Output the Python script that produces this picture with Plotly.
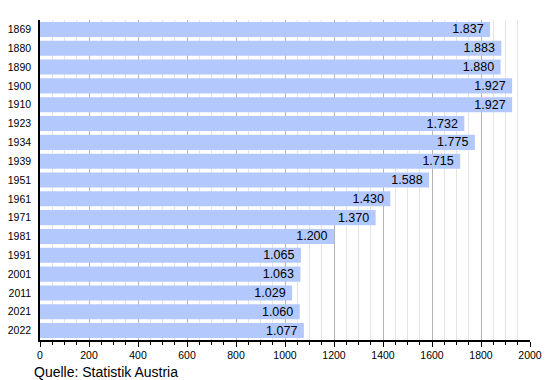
import plotly.graph_objects as go

years = ["1869", "1880", "1890", "1900", "1910", "1923", "1934", "1939", "1951",
         "1961", "1971", "1981", "1991", "2001", "2011", "2021", "2022"]
population = [1837, 1883, 1880, 1927, 1927, 1732, 1775, 1715, 1588,
              1430, 1370, 1200, 1065, 1063, 1029, 1060, 1077]
x_ticks = list(range(0, 2001, 200))

fig = go.Figure(go.Bar(
    x=population, y=years, orientation="h",
    marker=dict(color="#b3c9fd", line=dict(width=0)),
    texttemplate="%{x:,}\u00a0", textposition="inside", insidetextanchor="end",
    textfont=dict(size=12.5, color="black", family="Liberation Sans, Arial, sans-serif"),
    textangle=0, constraintext="none", cliponaxis=False,
))

fig.update_layout(
    width=550, height=380,
    margin=dict(l=32, r=28, t=12, b=48, autoexpand=False),
    paper_bgcolor="white", plot_bgcolor="white",
    separators=",.",
    bargap=0.2,
    showlegend=False,
    font=dict(family="Liberation Sans, Arial, sans-serif", color="black", size=11),
    xaxis=dict(
        range=[0, 2000], tickvals=x_ticks, ticktext=[str(v) for v in x_ticks],
        showgrid=True, gridcolor="#b4b4b4", gridwidth=1,
        showline=True, linecolor="black", linewidth=1.5,
        ticks="outside", ticklen=5, tickcolor="black", tickwidth=1,
        tickfont=dict(size=10.5), automargin=False,
        minor=dict(dtick=50, showgrid=True, gridcolor="#e4e4e4", gridwidth=1,
                   ticks="outside", ticklen=3, tickcolor="black"),
        zeroline=False, fixedrange=True,
    ),
    yaxis=dict(
        autorange="reversed", type="category",
        showline=True, linecolor="black", linewidth=1.5,
        ticks="", tickfont=dict(size=10.5), showgrid=False,
        ticklabelstandoff=5,
        automargin=False, fixedrange=True,
    ),
    annotations=[dict(text="Quelle: Statistik Austria", xref="paper", yref="paper",
                      x=-0.016, y=-0.1, xanchor="left", yanchor="middle",
                      showarrow=False, font=dict(size=14))],
)

fig.write_html("out.html")
